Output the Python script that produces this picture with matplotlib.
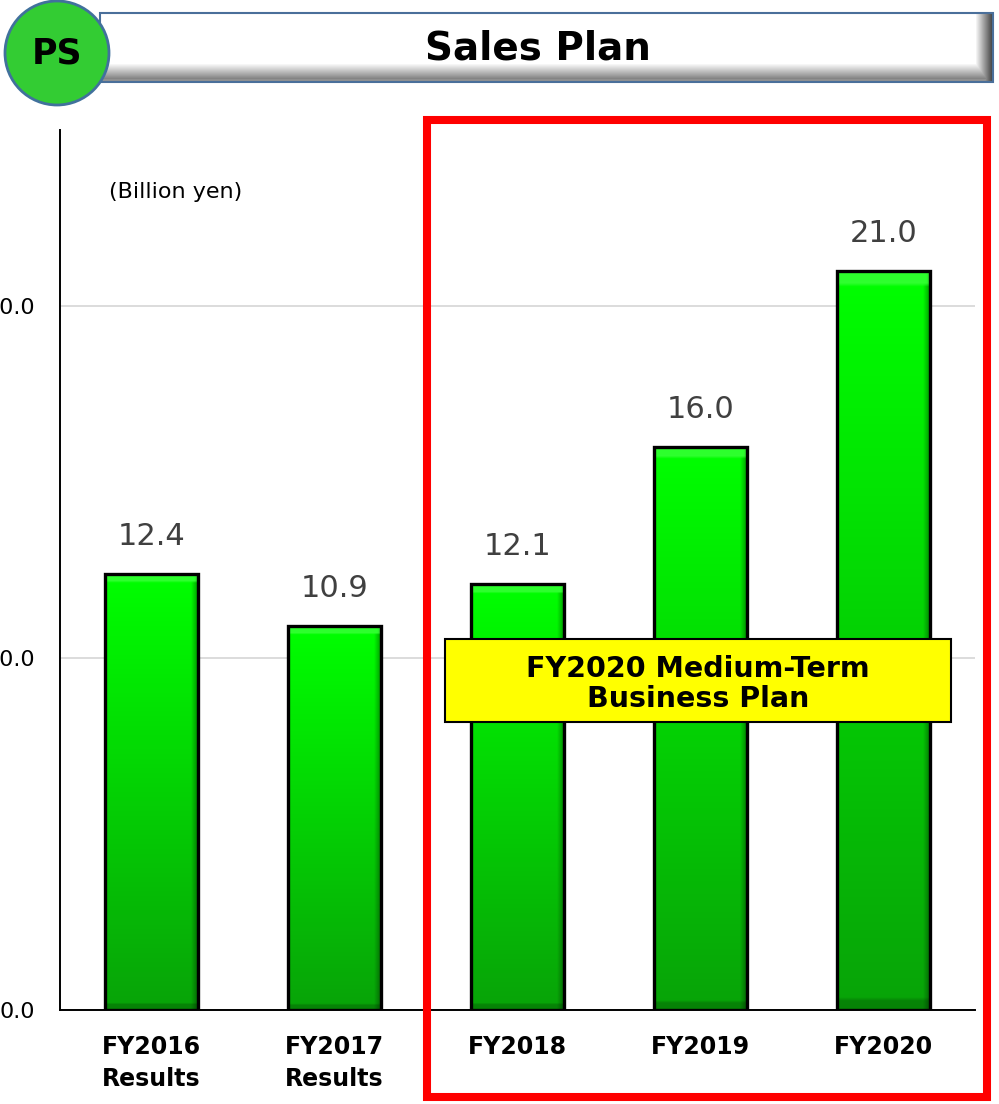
import numpy as np
import matplotlib
matplotlib.use("Agg")
import matplotlib.pyplot as plt
from matplotlib.patches import Rectangle, Circle

# ---- data ----
categories = ["FY2016\nResults", "FY2017\nResults", "FY2018", "FY2019", "FY2020"]
sales = [12.4, 10.9, 12.1, 16.0, 21.0]
y_ticks = [0.0, 10.0, 20.0]
y_tick_labels = ["0.0", "10.0", "20.0"]
unit_label = "(Billion yen)"
title = "Sales Plan"
badge = "PS"
plan_label = "FY2020 Medium-Term\nBusiness Plan"

W, H = 999, 1104
fig = plt.figure(figsize=(W / 100, H / 100), dpi=100)
plt.rcParams["font.family"] = ["DejaVu Sans"]

# ---- main bar chart ----
ax = fig.add_axes([60 / W, (H - 1010) / H, (975 - 60) / W, (1010 - 130) / H])
x = np.arange(len(categories))
ax.set_xlim(-0.5, len(categories) - 0.5)
ax.set_ylim(0, 25)

bar_w = 0.51
bars = ax.bar(x, sales, width=bar_w, facecolor="none", edgecolor="black",
              linewidth=2.4, zorder=3)

# green gradient with a light bevel for each bar
ny, nx = 200, 100
t = np.linspace(0, 1, ny)[:, None]            # 0 bottom -> 1 top
top = np.array([0.0, 1.0, 0.0])
bot = np.array([0.03, 0.64, 0.03])
base = bot + (top - bot) * t[..., None]
u = np.linspace(0, 1, nx)[None, :]
shade = np.ones((1, nx))
shade = np.where(u > 0.92, 1 - (u - 0.92) / 0.08 * 0.4, shade)
img = base * shade[..., None]
# lighter band at the top, darker band at the bottom (bevel)
img[-4:, :, :] = np.clip(img[-4:, :, :] + 0.18, 0, 1)
img[:3, :, :] *= 0.8
img = np.clip(img, 0, 1)

for b in bars:
    x0 = b.get_x()
    h = b.get_height()
    im = ax.imshow(img, extent=(x0, x0 + bar_w, 0, h), origin="lower",
                   aspect="auto", interpolation="bilinear", zorder=2)
    im.set_clip_path(b)

for xi, v in zip(x, sales):
    ax.annotate(f"{v:.1f}", (xi, v), xytext=(0, 27), textcoords="offset points",
                ha="center", va="center", fontsize=22, color="#404040")

ax.set_xticks(x)
ax.set_xticklabels(categories, fontsize=17, fontweight="bold", linespacing=1.4)
ax.set_yticks(y_ticks)
ax.set_yticklabels(y_tick_labels, fontsize=16)
ax.tick_params(axis="y", length=0, pad=18)
ax.tick_params(axis="x", length=0, pad=18)

ax.set_axisbelow(True)
ax.yaxis.grid(True, color="#D9D9D9", linewidth=1.3)
for s in ("top", "right"):
    ax.spines[s].set_visible(False)
for s in ("left", "bottom"):
    ax.spines[s].set_color("black")
    ax.spines[s].set_linewidth(1.4)

fig.text(176 / W, 1 - 192 / H, unit_label, ha="center", va="center", fontsize=16)

# ---- overlay in pixel coordinates: header, frame and caption ----
ov = fig.add_axes([0, 0, 1, 1])
ov.set_xlim(0, W)
ov.set_ylim(H, 0)
ov.axis("off")
ov.patch.set_alpha(0)

# header bar with bevelled bottom and right edges
bx0, bx1, by0, by1 = 100, 993, 13, 82
hh, ww = by1 - by0, bx1 - bx0
yy = np.arange(hh)[:, None] * np.ones((1, ww))
xx = np.ones((hh, 1)) * np.arange(ww)[None, :]
val = np.ones((hh, ww))
val = np.where(yy > 50, 1 - np.clip((yy - 50) / 15, 0, 1) * 0.48, val)
val = np.where(yy > 65, 0.55 + (yy - 65) / 4 * 0.05, val)
edge = xx > ww - 18
val = np.where(edge, np.minimum(val, 1 - np.clip((xx - (ww - 18)) / 16, 0, 1) * 0.7), val)
hdr = np.dstack([val, val, val])
ov.imshow(hdr, extent=(bx0, bx1, by1, by0), aspect="auto", zorder=1,
          interpolation="bilinear")
ov.add_patch(Rectangle((bx0, by0), ww, hh, facecolor="none",
                       edgecolor="#4A6F9A", linewidth=1.5, zorder=2))
ov.text(538, 49, title, ha="center", va="center", fontsize=28,
        fontweight="bold", color="black", zorder=3)

ov.add_patch(Circle((57, 53), 52, facecolor="#33CC33", edgecolor="#41719C",
                    linewidth=2.0, zorder=4))
ov.text(57, 54, badge, ha="center", va="center", fontsize=25,
        fontweight="bold", color="black", zorder=5)

# plan frame
ov.add_patch(Rectangle((427, 120), 560, 977, facecolor="none",
                       edgecolor="#FF0000", linewidth=5.8, zorder=4))

# plan caption
ov.add_patch(Rectangle((445, 639), 506, 83, facecolor="#FFFF00",
                       edgecolor="black", linewidth=1.5, zorder=4))
ov.text(698, 684, plan_label, ha="center", va="center", fontsize=20.5,
        fontweight="bold", color="black", linespacing=1.12, zorder=5)

fig.savefig("out.png", dpi=100)
